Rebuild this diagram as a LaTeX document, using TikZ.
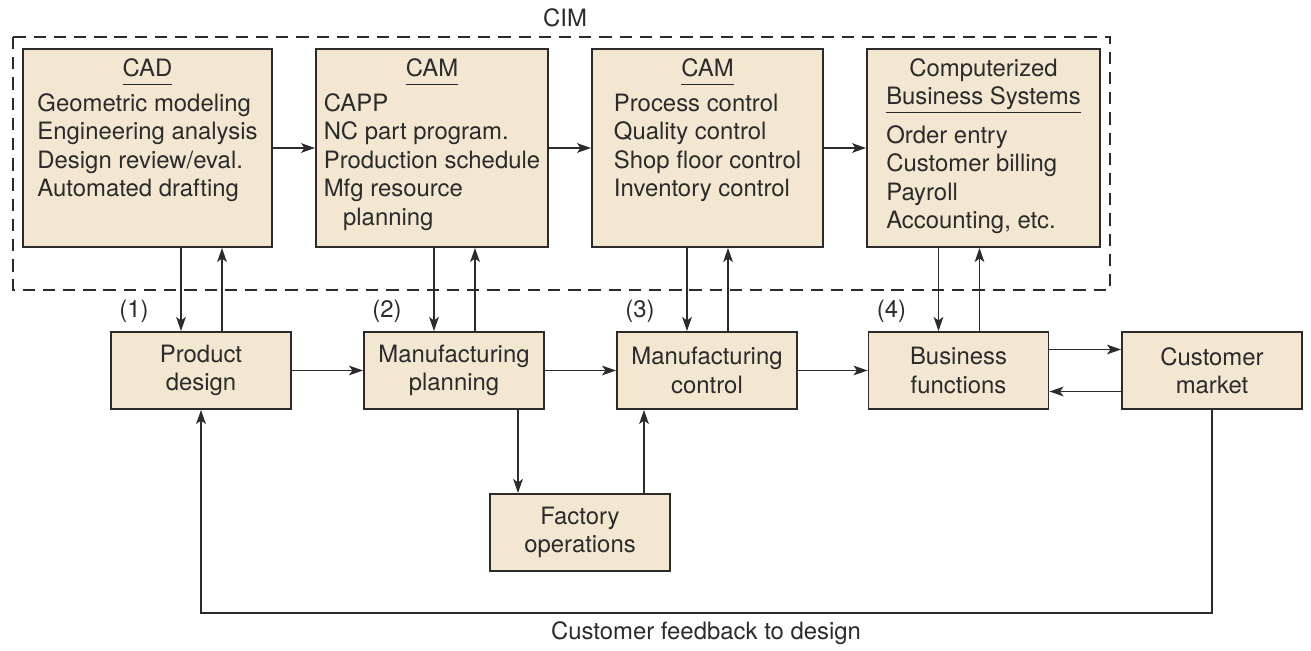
\documentclass[tikz,border=0pt]{standalone}
\usepackage{fontspec}
\setmainfont{TeX Gyre Heros}
\usetikzlibrary{arrows.meta,calc}
\definecolor{boxfill}{HTML}{F3E7D1}
\definecolor{ink}{HTML}{2B2B2B}
\newcommand\hdr[1]{\underline{#1\vphantom{y}}}

\begin{document}
\begin{tikzpicture}[x=0.02cm, y=-0.02cm,
  every node/.style={font=\fontsize{13.6}{16.2}\selectfont, text=ink},
  topbox/.style={draw=ink, line width=1.1pt, fill=boxfill, minimum height=3.96cm, inner sep=0pt},
  boxtext/.style={anchor=north, inner sep=0pt},
  funcbox/.style={draw=ink, line width=1.1pt, fill=boxfill, minimum width=3.6cm, minimum height=1.54cm, align=center, inner sep=0pt},
  arr/.style={draw=ink, line width=0.7pt, -{Stealth[length=8pt,width=5.5pt,inset=2pt]}}]
  \useasboundingbox (0,0) rectangle (1311,651);
  % CIM boundary
  \draw[ink, line width=1.1pt, dash pattern=on 7pt off 4.5pt] (13,37) rectangle (1110,290);
  \node (cim) at (565,18) {CIM};
  % computerized systems
  \node[topbox, minimum width=4.98cm] (cad) at (147.5,148) {};
  \node[topbox, minimum width=4.64cm] (cam1) at (432,148) {};
  \node[topbox, minimum width=4.62cm] (cam2) at (707.5,148) {};
  \node[topbox, minimum width=4.66cm] (cbs) at (983.5,148) {};
  \node[boxtext] (cadtext) at ([yshift=-0.16cm]cad.north) {\begin{tabular}{@{}l@{}}
    \multicolumn{1}{@{}c@{}}{\hdr{CAD}}\\[3.7pt]
    Geometric modeling\\ Engineering analysis\\ Design review/eval.\\ Automated drafting
  \end{tabular}};
  \node[boxtext] (cam1text) at ([yshift=-0.16cm]cam1.north) {\begin{tabular}{@{}l@{}}
    \multicolumn{1}{@{}c@{}}{\hdr{CAM}}\\[3.7pt]
    CAPP\\ NC part program.\\ Production schedule\\ Mfg resource\\ \hspace{11pt}planning
  \end{tabular}};
  \node[boxtext] (cam2text) at ([yshift=-0.16cm]cam2.north) {\begin{tabular}{@{}l@{}}
    \multicolumn{1}{@{}c@{}}{\hdr{CAM}}\\[3.7pt]
    Process control\\ Quality control\\ Shop floor control\\ Inventory control
  \end{tabular}};
  \node[boxtext] (cbstext) at ([yshift=-0.16cm]cbs.north) {\begin{tabular}{@{}l@{}}
    \multicolumn{1}{@{}c@{}}{Computerized}\\
    \multicolumn{1}{@{}c@{}}{\hdr{Business Systems}}\\[5.7pt]
    Order entry\\ Customer billing\\ Payroll\\ Accounting, etc.
  \end{tabular}};
  % functions
  \node[funcbox] (pd) at (201,370.5) {Product\\design};
  \node[funcbox] (mp) at (454,370.5) {Manufacturing\\planning};
  \node[funcbox] (mc) at (707,370.5) {Manufacturing\\control};
  \node[funcbox] (bf) at (958.5,370.5) {Business\\functions};
  \node[funcbox] (cm) at (1212,370.5) {Customer\\market};
  \node[funcbox] (fo) at (580,532.5) {Factory\\operations};
  \foreach \b/\n in {pd/1, mp/2, mc/3, bf/4}
    \node (num\n) at ($(\b.north west)+(24,-20)$) {(\n)};
  % connections
  \draw[arr] (cad) -- (cam1);
  \draw[arr] (cam1) -- (cam2);
  \draw[arr] (cam2) -- (cbs);
  \draw[arr] (pd) -- (mp);
  \draw[arr] (mp) -- (mc);
  \draw[arr] (mc) -- (bf);
  \foreach \a/\b in {cad/pd, cam1/mp, cam2/mc, cbs/bf}{
    \coordinate (dn) at ($(\b.north)+(-20,0)$);
    \coordinate (up) at ($(\b.north)+(21,0)$);
    \draw[arr] (dn |- \a.south) -- (dn);
    \draw[arr] (up) -- (up |- \a.south);
  }
  \coordinate (fodn) at ($(fo.north)+(-62,0)$);
  \coordinate (foup) at ($(fo.north)+(64,0)$);
  \draw[arr] (fodn |- mp.south) -- (fodn);
  \draw[arr] (foup) -- (foup |- mc.south);
  \coordinate (bfout) at ($(bf.east)+(0,-21)$);
  \coordinate (cmout) at ($(cm.west)+(0,21)$);
  \draw[arr] (bfout) -- (bfout -| cm.west);
  \draw[arr] (cmout) -- (cmout -| bf.east);
  \coordinate (fb) at (706,613);
  \draw[arr] (cm.south) |- (fb) -| (pd.south);
  \node (fbtext) at (706,633) {Customer feedback to design};
\end{tikzpicture}
\end{document}
